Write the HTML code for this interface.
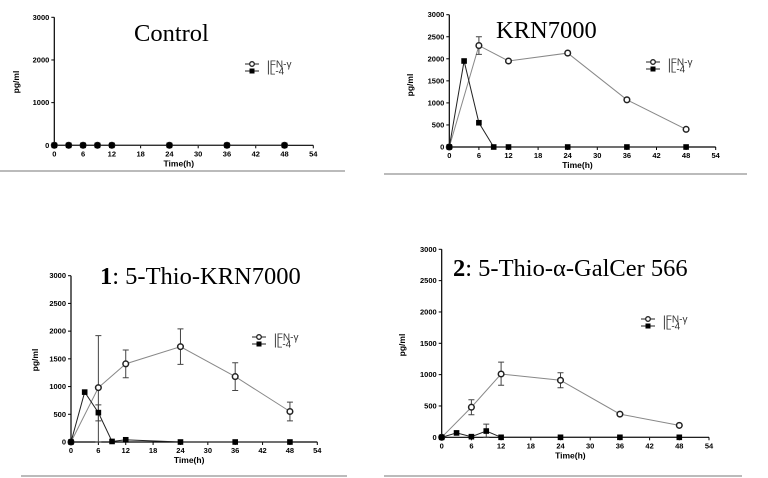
<!DOCTYPE html>
<html><head><meta charset="utf-8"><style>
body{margin:0;background:#fff;width:768px;height:478px;overflow:hidden}
svg{display:block}
</style></head><body>
<svg id="s" width="768" height="478" xmlns="http://www.w3.org/2000/svg" font-family="Liberation Sans, sans-serif"></svg>
<script>
const P=[
{x0:54.3,x1:313.3,y0:145.3,y1:17.3,step:1000,
 ifn:[[0,0],[3,0],[6,0],[9,0],[12,0],[24,0],[36,0],[48,0]],il4:[[0,0],[3,0],[6,0],[9,0],[12,0],[24,0],[36,0],[48,0]],
 title:'Control',tx:134,ty:41,lx:245,ly:64,yl:[19,82],sep:[0,171,345]},
{x0:449.3,x1:715.7,y0:147,y1:14.7,step:500,
 ifn:[[0,0],[6,2300,2100,2500],[12,1950],[24,2130],[36,1070],[48,400]],
 il4:[[0,0],[3,1950],[6,550],[9,0],[12,0],[24,0],[36,0],[48,0]],
 title:'KRN7000',tx:496,ty:38,lx:646,ly:62,yl:[413,85],sep:[384,174,747]},
{x0:71,x1:317.3,y0:442,y1:275.7,step:500,
 ifn:[[0,0],[6,980,0,1920],[12,1410,1160,1660],[24,1720,1400,2040],[36,1180,930,1430],[48,550,380,720]],
 il4:[[0,0],[3,900],[6,530,380,670],[9,10],[12,40],[24,0],[36,0],[48,0]],
 title:'<tspan font-weight="bold">1</tspan>: 5-Thio-KRN7000',tx:100,ty:284,lx:252,ly:337,yl:[38,360],sep:[21,476,347]},
{x0:441.7,x1:709,y0:437.3,y1:249.3,step:500,
 ifn:[[0,0],[6,480,360,600],[12,1010,830,1200],[24,910,790,1030],[36,370],[48,190]],
 il4:[[0,0],[3,70],[6,10],[9,100,0,210],[12,0],[24,0],[36,0],[48,0]],
 title:'<tspan font-weight="bold">2</tspan>: 5-Thio-α-GalCer 566',tx:453,ty:276,lx:641,ly:319,yl:[405,345],sep:[384,476,742]}
];
let h='';
for(const p of P){
 const X=t=>p.x0+(p.x1-p.x0)*t/54, Y=v=>p.y0+(p.y1-p.y0)*v/3000;
 h+=`<line x1="${p.x0}" y1="${p.y0}" x2="${p.x1}" y2="${p.y0}" stroke="#000" stroke-width="1.2"/>`;
 h+=`<line x1="${p.x0}" y1="${p.y0}" x2="${p.x0}" y2="${p.y1}" stroke="#000" stroke-width="1.2"/>`;
 for(let t=0;t<=54;t+=6){h+=`<line x1="${X(t)}" y1="${p.y0}" x2="${X(t)}" y2="${p.y0+3}" stroke="#000"/><text x="${X(t)}" y="${p.y0+11}" font-size="7.5" font-weight="bold" text-anchor="middle">${t}</text>`;}
 for(let v=0;v<=3000;v+=p.step){h+=`<line x1="${p.x0-3}" y1="${Y(v)}" x2="${p.x0}" y2="${Y(v)}" stroke="#000"/><text x="${p.x0-5}" y="${Y(v)+2.5}" font-size="7.5" font-weight="bold" text-anchor="end">${v}</text>`;}
 h+=`<text x="${(p.x0+p.x1)/2-5}" y="${p.y0+21}" font-size="8.5" font-weight="bold" text-anchor="middle">Time(h)</text>`;
 h+=`<text transform="translate(${p.yl[0]},${p.yl[1]}) rotate(-90)" font-size="8.5" font-weight="bold" text-anchor="middle">pg/ml</text>`;
 h+=`<text x="${p.tx}" y="${p.ty}" font-family="Liberation Serif, serif" font-size="24.5">${p.title}</text>`;
 h+=`<line x1="${p.sep[0]}" y1="${p.sep[1]}" x2="${p.sep[2]}" y2="${p.sep[1]}" stroke="#777" stroke-width="1"/>`;
 for(const [s,col] of [[p.ifn,'#888'],[p.il4,'#222']]){
  h+=`<polyline fill="none" stroke="${col}" stroke-width="1" points="${s.map(d=>X(d[0])+','+Y(d[1])).join(' ')}"/>`;
  for(const d of s) if(d.length>2){h+=`<path d="M${X(d[0])},${Y(d[2])}V${Y(d[3])}M${X(d[0])-3},${Y(d[2])}h6M${X(d[0])-3},${Y(d[3])}h6" stroke="#444" fill="none"/>`;}
 }
 for(const d of p.ifn) h+=`<circle cx="${X(d[0])}" cy="${Y(d[1])}" r="2.8" fill="#fff" stroke="#222" stroke-width="1.5"/>`;
 for(const d of p.il4) h+=`<rect x="${X(d[0])-2.8}" y="${Y(d[1])-2.8}" width="5.6" height="5.6" fill="#000"/>`;
 h+=`<line x1="${p.lx}" y1="${p.ly}" x2="${p.lx+14}" y2="${p.ly}" stroke="#222"/><circle cx="${p.lx+7}" cy="${p.ly}" r="2.3" fill="#fff" stroke="#222" stroke-width="1.3"/><text x="${p.lx+22}" y="${p.ly+3.5}" font-size="10" fill="#333">IFN-γ</text>`;
 h+=`<line x1="${p.lx}" y1="${p.ly+7}" x2="${p.lx+14}" y2="${p.ly+7}" stroke="#222"/><rect x="${p.lx+4.5}" y="${p.ly+4.5}" width="5" height="5" fill="#000"/><text x="${p.lx+22}" y="${p.ly+10.5}" font-size="10" fill="#333">IL-4</text>`;
}
document.getElementById('s').innerHTML=h;
</script>
</body></html>
